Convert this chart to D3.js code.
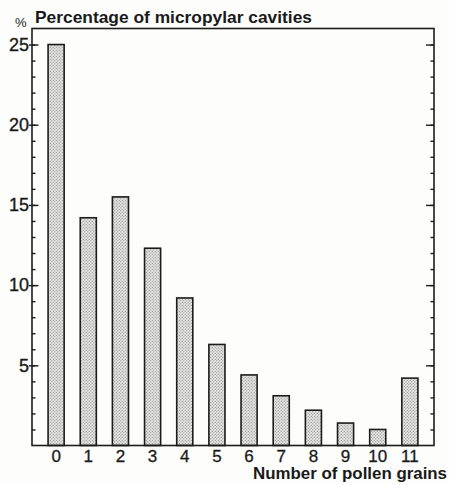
<!DOCTYPE html>
<html>
<head>
<meta charset="utf-8">
<script src="https://cdn.jsdelivr.net/npm/d3@7"></script>
<style>
  html, body { margin: 0; padding: 0; background: #fdfdfc; }
  svg { display: block; }
  text { font-family: "Liberation Sans", Arial, Helvetica, sans-serif; fill: #1a1a1a; }
</style>
</head>
<body>
<svg id="chart" width="449" height="485"></svg>
<script>
// Number of pollen grains found in a micropylar cavity
const categories = ["0", "1", "2", "3", "4", "5", "6", "7", "8", "9", "10", "11"];
// Percentage of micropylar cavities for each count
const percentages = [25, 14.2, 15.5, 12.3, 9.2, 6.3, 4.4, 3.1, 2.2, 1.4, 1.0, 4.2];
// Labelled and unlabelled ticks on the vertical axes
const majorTicks = [5, 10, 15, 20, 25];
const minorTicks = d3.range(1, 26);

const frame = { left: 32, right: 434, top: 28.5, bottom: 445.5 };
const ink = "#1c1c1c";

const svg = d3.select("#chart");

// Stippled fill for the bars
const defs = svg.append("defs");
const pat = defs.append("pattern")
  .attr("id", "stipple")
  .attr("patternUnits", "userSpaceOnUse")
  .attr("width", 3).attr("height", 3);
pat.append("rect").attr("width", 3).attr("height", 3).attr("fill", "#e4e4e2");
pat.append("circle").attr("cx", 0.8).attr("cy", 0.8).attr("r", 0.6).attr("fill", "#8a8a88");
pat.append("circle").attr("cx", 2.3).attr("cy", 2.3).attr("r", 0.6).attr("fill", "#8a8a88");

const x = d3.scaleBand()
  .domain(categories)
  .range([frame.left, frame.right])
  .paddingInner(0.5)
  .paddingOuter(0.5);

const y = d3.scaleLinear()
  .domain([0, 26])
  .range([frame.bottom, frame.top]);

// Bars
svg.append("g").selectAll("rect")
  .data(percentages)
  .join("rect")
  .attr("x", (d, i) => x(categories[i]))
  .attr("width", x.bandwidth())
  .attr("y", d => y(d))
  .attr("height", d => y(0) - y(d))
  .attr("fill", "url(#stipple)")
  .attr("stroke", ink)
  .attr("stroke-width", 1.6);

// Left axis: minor ticks inside, major ticks crossing the axis with labels
svg.append("g")
  .attr("transform", `translate(${frame.left},0)`)
  .call(d3.axisLeft(y).tickValues(minorTicks).tickSize(-3.5).tickFormat(""));
svg.append("g")
  .attr("transform", `translate(${frame.left},0)`)
  .call(d3.axisLeft(y).tickValues(majorTicks).tickSize(-6.5).tickFormat(""));
const leftMajor = svg.append("g")
  .attr("transform", `translate(${frame.left},0)`)
  .call(d3.axisLeft(y).tickValues(majorTicks).tickSize(3).tickPadding(0).tickFormat(d3.format("d")));
leftMajor.selectAll("text")
  .attr("font-size", 18)
  .attr("stroke", "#1a1a1a")
  .attr("stroke-width", 0.35);

// Right axis: same ticks, no labels
svg.append("g")
  .attr("transform", `translate(${frame.right},0)`)
  .call(d3.axisRight(y).tickValues(minorTicks).tickSize(-3.5).tickFormat(""));
svg.append("g")
  .attr("transform", `translate(${frame.right},0)`)
  .call(d3.axisRight(y).tickValues(majorTicks).tickSize(-8).tickFormat(""));

// Bottom axis labels
const bottom = svg.append("g")
  .attr("transform", `translate(0,${frame.bottom})`)
  .call(d3.axisBottom(x).tickSize(0).tickPadding(4));
bottom.selectAll("text")
  .attr("font-size", 17)
  .attr("stroke", "#1a1a1a")
  .attr("stroke-width", 0.3);

svg.selectAll(".domain").remove();
svg.selectAll(".tick line").attr("stroke", ink).attr("stroke-width", 1.4);

// Frame
svg.append("rect")
  .attr("x", frame.left).attr("y", frame.top)
  .attr("width", frame.right - frame.left)
  .attr("height", frame.bottom - frame.top)
  .attr("fill", "none")
  .attr("stroke", ink)
  .attr("stroke-width", 1.6);

// Titles
svg.append("text")
  .attr("x", 15).attr("y", 27)
  .attr("font-size", 13)
  .text("%");
svg.append("text")
  .attr("x", 35).attr("y", 23)
  .attr("font-size", 17)
  .attr("font-weight", "bold")
  .attr("textLength", 277)
  .attr("lengthAdjust", "spacingAndGlyphs")
  .text("Percentage of micropylar cavities");
svg.append("text")
  .attr("x", 447).attr("y", 479)
  .attr("text-anchor", "end")
  .attr("font-size", 16)
  .attr("font-weight", "bold")
  .attr("textLength", 194)
  .attr("lengthAdjust", "spacingAndGlyphs")
  .text("Number of pollen grains");
</script>
</body>
</html>
